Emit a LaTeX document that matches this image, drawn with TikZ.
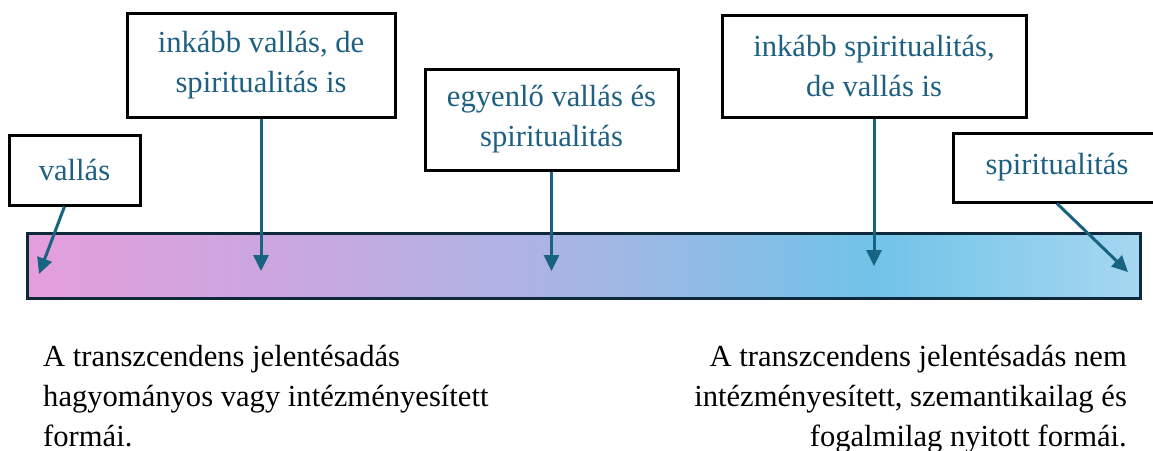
\documentclass[tikz,border=0pt]{standalone}
\usepackage{fontspec}
\setmainfont{Liberation Serif}
\usetikzlibrary{arrows.meta,positioning}

\definecolor{labelblue}{RGB}{30,96,130}
\definecolor{arrowblue}{RGB}{24,98,130}
\definecolor{barline}{RGB}{14,42,58}
\definecolor{spinka}{RGB}{228,158,220}
\definecolor{spinkb}{RGB}{200,168,224}
\definecolor{spinkc}{RGB}{166,182,228}
\definecolor{spinkd}{RGB}{112,195,232}
\definecolor{spinke}{RGB}{166,215,240}
\pgfdeclarehorizontalshading{spectrum}{100bp}{color(0bp)=(spinka); color(25bp)=(spinka); color(37.5bp)=(spinkb); color(50bp)=(spinkc); color(63bp)=(spinkd); color(75bp)=(spinke); color(100bp)=(spinke)}

\begin{document}
\begin{tikzpicture}[x=1pt, y=-1pt]
\tikzstyle{every node}=[font=\fontsize{30.6}{40}\selectfont, inner sep=0pt]
\tikzstyle{tagbox}=[draw=black, line width=3pt, fill=white, text=labelblue, align=center]
\tikzstyle{pointer}=[draw=arrowblue, line width=3pt, -{Triangle[length=16pt,width=15pt]}]
\tikzstyle{note}=[text=black]
\useasboundingbox (0,0) rectangle (1153,450);
% scale bar
\shade[shading=spectrum, draw=barline, line width=3pt] (27,233) rectangle (1140,298);
% boxes
\node[tagbox, minimum width=131pt, minimum height=70pt] (b1) at (74.5,170) {vallás};
\node[tagbox, minimum width=268pt, minimum height=104pt] (b2) at (261,65) {inkább vallás, de\\spiritualitás is};
\node[tagbox, minimum width=253pt, minimum height=101pt] (b3) at (551.5,119.5) {egyenlő vallás és\\spiritualitás};
\node[tagbox, minimum width=304pt, minimum height=102pt] (b4) at (874,66) {inkább spiritualitás,\\de vallás is};
\node[tagbox, minimum width=208pt, minimum height=69pt] (b5) at (1057,167.5) {spiritualitás};
\coordinate (t1) at (39,274);
\coordinate (t2) at (261,271);
\coordinate (t3) at (551.5,271);
\coordinate (t4) at (874,266);
\coordinate (t5) at (1128,272);
\draw[pointer] ([xshift=-10pt]b1.south) -- (t1);
\draw[pointer] (b2) -- (t2);
\draw[pointer] (b3) -- (t3);
\draw[pointer] (b4) -- (t4);
\draw[pointer] (b5.south) -- (t5);
% ends of the scale
\node[note, anchor=north west, align=left] (left) at (43,345) {A transzcendens jelentésadás\\hagyományos vagy intézményesített\\formái.};
\node[note, anchor=north east, align=right] (right) at (1127,345) {A transzcendens jelentésadás nem\\intézményesített, szemantikailag és\\fogalmilag nyitott formái.};
\end{tikzpicture}
\end{document}
